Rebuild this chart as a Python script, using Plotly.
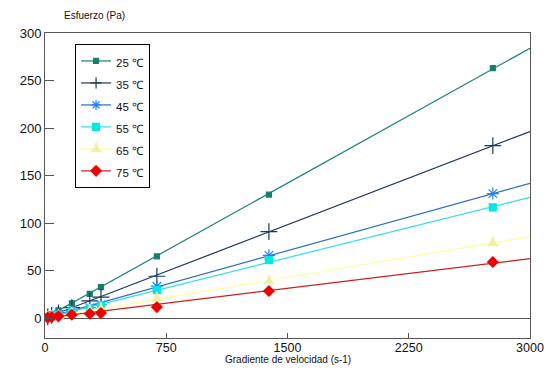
import numpy as np
import plotly.graph_objects as go

# Shear rate (s-1)
gamma = [2770, 1385, 692, 346, 277, 166, 83, 41, 17]

series_names = ["25 ℃", "35 ℃", "45 ℃", "55 ℃", "65 ℃", "75 ℃"]
stress_25 = [263, 130, 65, 32.5, 25.5, 15.5, 8, 4, 1.8]
stress_35 = [181.5, 91, 44, 22, 18, 11, 5.5, 2.8, 1.2]
stress_45 = [131, 66, 33.5, 14, 11, 7.5, 3.8, 2, 0.8]
stress_55 = [116.5, 61, 29.5, 13, 10, 7, 3.4, 1.7, 0.7]
stress_65 = [79, 39, 21, 10, 8, 4.8, 2.4, 1.2, 0.5]
stress_75 = [59, 28.5, 11.5, 5.2, 4.5, 3.4, 1.8, 0.9, 0.4]

x_ticks = [0, 750, 1500, 2250, 3000]
y_ticks = [0, 50, 100, 150, 200, 250, 300]

all_stress = [stress_25, stress_35, stress_45, stress_55, stress_65, stress_75]
line_colors = ["#16807a", "#1b3a5c", "#2a6fbf", "#33dede", "#ffff99", "#cc1f1f"]
marker_colors = ["#16806e", "#1b3a5c", "#1e80ff", "#00e8e8", "#f3eea0", "#ee0000"]
symbols = ["square", "cross-thin-open", "asterisk-open", "square", "star-triangle-up", "diamond"]
sizes = [5, 12, 10, 7, 8, 8]

fig = go.Figure()
g = np.array(gamma, dtype=float)
for name, ys, lc, mc, sym, sz in zip(series_names, all_stress, line_colors, marker_colors, symbols, sizes):
    y = np.array(ys, dtype=float)
    slope = float((g * y).sum() / (g * g).sum())
    xf = np.array([0.0, 3000.0])
    fig.add_trace(go.Scatter(x=xf, y=slope * xf, mode="lines",
                             line=dict(color=lc, width=1.2), showlegend=False, hoverinfo="skip"))
    fig.add_trace(go.Scatter(x=gamma, y=ys, mode="markers", showlegend=False,
                             marker=dict(symbol=sym, size=sz, color=mc,
                                         line=dict(color=mc, width=1.2))))
    fig.add_trace(go.Scatter(x=[None], y=[None], mode="lines+markers",
                             name='<span style="font-size:11.5px">' + name + '</span>',
                             line=dict(color=lc, width=1.2),
                             marker=dict(symbol=sym, size=min(sz, 8), color=mc,
                                         line=dict(color=mc, width=1.2))))

axis_color = "#555555"
fig.update_layout(
    width=551, height=363,
    margin=dict(l=35, r=29, t=25, b=33),
    paper_bgcolor="white", plot_bgcolor="white",
    font=dict(family="Liberation Sans, Arial, sans-serif", color="#111111"),
    showlegend=True,
    legend=dict(x=0.062, y=0.964, xanchor="left", yanchor="top",
                bordercolor="#000000", borderwidth=1, bgcolor="white",
                font=dict(size=14.6), itemwidth=30, tracegroupgap=0),
    xaxis=dict(range=[0, 3000], tickvals=x_ticks, ticks="inside", ticklen=5,
               tickcolor=axis_color, showline=True, linecolor=axis_color, linewidth=1,
               mirror=True, showgrid=False, zeroline=False, ticklabelstandoff=-2,
               tickfont=dict(size=12.5)),
    yaxis=dict(range=[-21, 300], tickvals=y_ticks, ticks="inside", ticklen=9,
               tickcolor=axis_color, showline=True, linecolor=axis_color, linewidth=1,
               mirror=True, showgrid=False, zeroline=True, zerolinecolor=axis_color,
               zerolinewidth=1, tickfont=dict(size=13)),
    annotations=[
        dict(text="Esfuerzo (Pa)", xref="paper", yref="paper", x=0.035, y=1.059,
             xanchor="left", yanchor="middle", showarrow=False, font=dict(size=10)),
        dict(text="Gradiente de velocidad (s-1)", xref="paper", yref="paper", x=0.501,
             y=-0.072, xanchor="center", yanchor="middle", showarrow=False,
             font=dict(size=10)),
    ],
)

fig.write_html("out.html")
